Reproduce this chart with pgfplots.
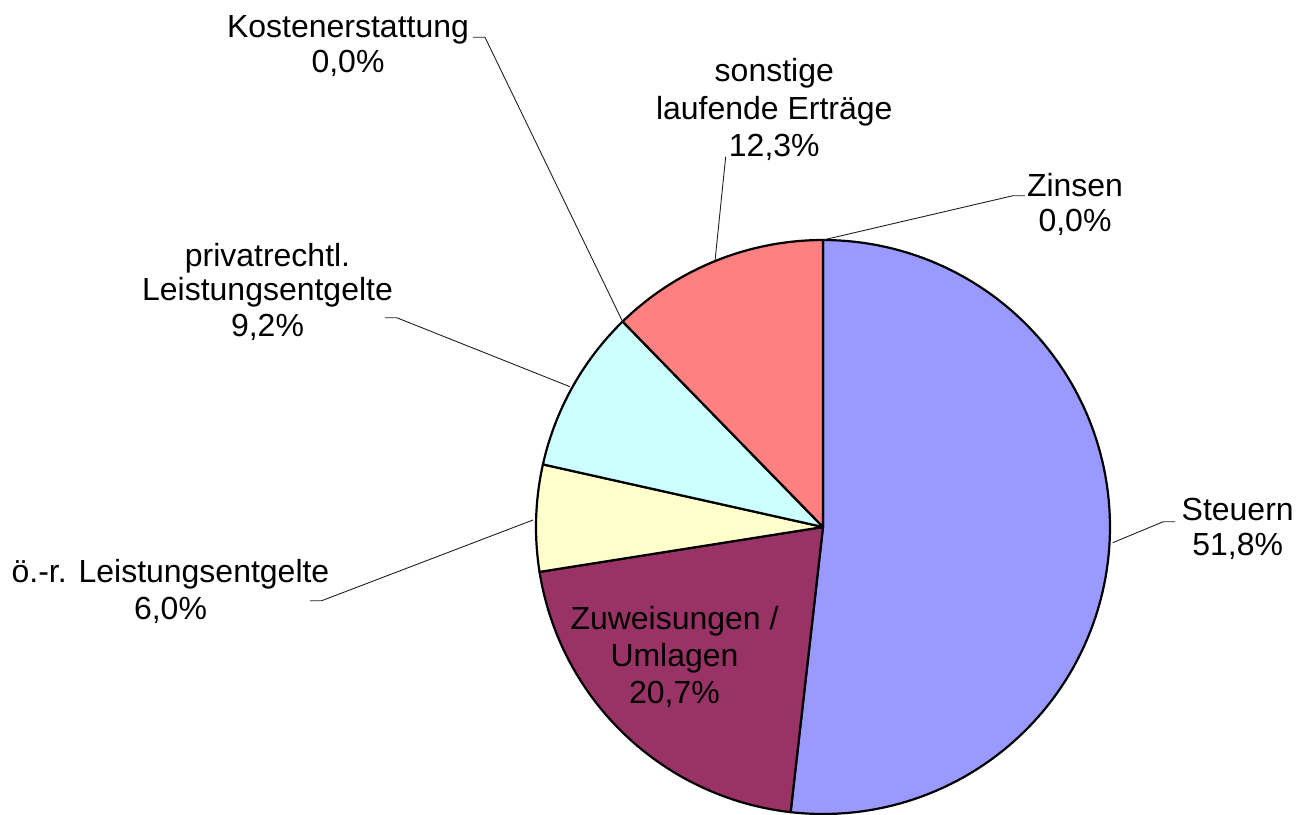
\documentclass[border=0pt]{standalone}
\usepackage{pgfplots}
\pgfplotsset{compat=1.18}
\usepackage{fontspec}
\setmainfont{Liberation Sans}
\definecolor{cSteuern}{HTML}{9999FF}
\definecolor{cZuw}{HTML}{993366}
\definecolor{cOer}{HTML}{FFFFCC}
\definecolor{cPriv}{HTML}{CCFFFF}
\definecolor{cSonst}{HTML}{FF8080}
\definecolor{cLead}{HTML}{202020}
% shares in percent, clockwise from 12 o'clock
\def\vZinsen{0.0}
\def\vSteuern{51.8}
\def\vZuw{20.7}
\def\vOer{6.0}
\def\vPriv{9.2}
\def\vKosten{0.0}
\def\vSonst{12.3}
\tikzset{
  slice/.style={draw=black, line width=2.2bp, line join=round},
  lead/.style={draw=cLead, line width=0.9bp},
  lab/.style={anchor=base, inner sep=0pt, font=\fontsize{32.1}{36}\selectfont},
}
\begin{document}
\begin{tikzpicture}
\pgfmathsetmacro\aA{90-3.6*\vZinsen}
\pgfmathsetmacro\aB{\aA-3.6*\vSteuern}
\pgfmathsetmacro\aC{\aB-3.6*\vZuw}
\pgfmathsetmacro\aD{\aC-3.6*\vOer}
\pgfmathsetmacro\aE{\aD-3.6*\vPriv}
\pgfmathsetmacro\aF{\aE-3.6*\vKosten}
\pgfmathsetmacro\aG{\aF-3.6*\vSonst}
\begin{axis}[
  hide axis, scale only axis,
  width=1297bp, height=814bp,
  xmin=0, xmax=1297, ymin=0, ymax=814,
  y dir=reverse, clip=false,
]
\addplot[slice, fill=cSteuern, domain=\aB:\aA, samples=120, variable=\t, mark=none] ({823+287*cos(\t)},{527-287*sin(\t)}) -- (823,527) -- cycle;
\addplot[slice, fill=cZuw, domain=\aC:\aB, samples=80, variable=\t, mark=none] ({823+287*cos(\t)},{527-287*sin(\t)}) -- (823,527) -- cycle;
\addplot[slice, fill=cOer, domain=\aD:\aC, samples=40, variable=\t, mark=none] ({823+287*cos(\t)},{527-287*sin(\t)}) -- (823,527) -- cycle;
\addplot[slice, fill=cPriv, domain=\aE:\aD, samples=40, variable=\t, mark=none] ({823+287*cos(\t)},{527-287*sin(\t)}) -- (823,527) -- cycle;
\addplot[slice, fill=cSonst, domain=\aG:\aF, samples=50, variable=\t, mark=none] ({823+287*cos(\t)},{527-287*sin(\t)}) -- (823,527) -- cycle;

% leader lines
\addplot[lead, mark=none] coordinates {(473,37.3) (485,37.3) (622.6,321.6)};
\addplot[lead, mark=none] coordinates {(715,261) (725.7,156.7)};
\addplot[lead, mark=none] coordinates {(823,240) (1013,195.7) (1025,195.7)};
\addplot[lead, mark=none] coordinates {(385,317.7) (396.7,317.7) (570,386.7)};
\addplot[lead, mark=none] coordinates {(310,600.7) (321.7,600.7) (533,520)};
\addplot[lead, mark=none] coordinates {(1112.7,542.7) (1163.3,521.7) (1175,521.7)};

% labels
\node[lab] at (348,37.3) {Kostenerstattung};
\node[lab] at (348,72.7) {0,0\%};
\node[lab] at (774.3,81.7) {sonstige};
\node[lab] at (774.3,119.3) {laufende Erträge};
\node[lab] at (774.3,156.7) {12,3\%};
\node[lab] at (1075,196.7) {Zinsen};
\node[lab] at (1075,231.7) {0,0\%};
\node[lab] at (267.5,266.7) {privatrechtl.};
\node[lab] at (267.5,300.5) {Leistungsentgelte};
\node[lab] at (267.5,336) {9,2\%};
\node[lab] at (170.5,582.7) {ö.-r. Leistungsentgelte};
\node[lab] at (170.5,619) {6,0\%};
\node[lab] at (1237.7,520) {Steuern};
\node[lab] at (1237.7,555) {51,8\%};
\node[lab] at (674.5,629.3) {Zuweisungen /};
\node[lab] at (674.5,666.7) {Umlagen};
\node[lab] at (674.5,703.3) {20,7\%};
\end{axis}
\pgfresetboundingbox
\path (current axis.south west) rectangle (current axis.north east);
\end{tikzpicture}
\end{document}
